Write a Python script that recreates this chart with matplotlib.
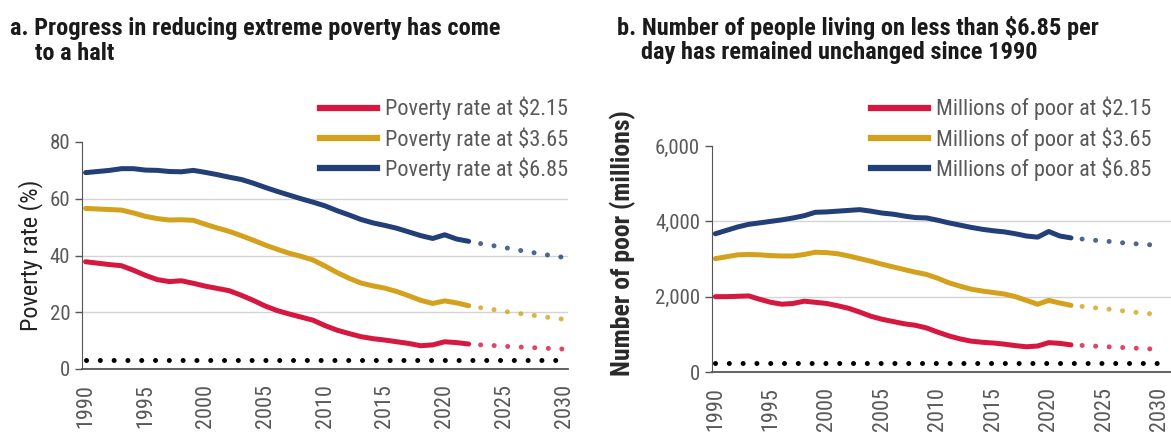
import matplotlib
matplotlib.use("Agg")
import matplotlib.pyplot as plt
from matplotlib import font_manager as fm
from matplotlib.lines import Line2D

# --- pick a narrow sans if one is installed ---
fonts = fm.fontManager.ttflist
names = {f.name for f in fonts}
FONT, STRETCH = 'Roboto', 'normal'
for cand in ['Liberation Sans Narrow', 'Noto Sans Condensed', 'Roboto Condensed',
             'Open Sans Condensed', 'DejaVu Sans Condensed']:
    if cand in names:
        FONT = cand
        break
else:
    for fam in ['Noto Sans', 'Open Sans', 'Roboto', 'DejaVu Sans']:
        if any(f.name == fam and f.stretch in ('condensed', 'semi-condensed', 600 - 100)
               for f in fonts):
            FONT, STRETCH = fam, 'condensed'
            break
plt.rcParams['font.family'] = [FONT, 'DejaVu Sans']
plt.rcParams['font.stretch'] = STRETCH

# --- data ---
years = list(range(1990, 2023))
proj_years = list(range(2022, 2031))
target_years = [1990, 2030]

rate_215 = [37.8, 37.3, 36.8, 36.4, 34.8, 33.0, 31.5, 30.8, 31.1, 30.2, 29.2,
            28.4, 27.6, 26.0, 24.2, 22.2, 20.6, 19.4, 18.3, 17.2, 15.3,
            13.7, 12.5, 11.4, 10.7, 10.2, 9.6, 9.0, 8.2, 8.5, 9.6, 9.3, 8.8]
rate_365 = [56.6, 56.4, 56.2, 56.0, 55.0, 53.8, 53.0, 52.5, 52.6, 52.4, 51.0,
            49.7, 48.5, 47.0, 45.4, 43.7, 42.2, 40.8, 39.7, 38.4, 36.3,
            34.0, 32.0, 30.3, 29.3, 28.5, 27.3, 25.8, 24.2, 23.1, 24.0, 23.3, 22.3]
rate_685 = [69.2, 69.6, 70.0, 70.6, 70.6, 70.1, 70.0, 69.6, 69.5, 70.0, 69.3,
            68.5, 67.6, 66.8, 65.5, 64.0, 62.6, 61.3, 60.0, 58.8, 57.5,
            55.8, 54.3, 52.7, 51.5, 50.6, 49.6, 48.3, 47.0, 46.0, 47.3, 45.8, 45.0]
rate_215_proj = [8.8, 8.5, 8.3, 8.0, 7.8, 7.6, 7.4, 7.2, 7.0]
rate_365_proj = [22.3, 21.6, 21.0, 20.3, 19.7, 19.1, 18.6, 18.0, 17.5]
rate_685_proj = [45.0, 44.2, 43.5, 42.8, 42.0, 41.3, 40.6, 39.9, 39.3]
rate_target = [3, 3]

poor_215 = [2000, 2000, 2010, 2020, 1930, 1850, 1800, 1820, 1880, 1850, 1820,
            1760, 1690, 1590, 1480, 1400, 1340, 1280, 1240, 1170, 1060,
            960, 880, 820, 790, 770, 740, 700, 670, 690, 780, 760, 720]
poor_365 = [3010, 3060, 3110, 3120, 3110, 3090, 3080, 3080, 3120, 3180, 3170,
            3140, 3080, 3010, 2940, 2860, 2790, 2720, 2650, 2590, 2490,
            2370, 2280, 2200, 2150, 2110, 2070, 2000, 1900, 1800, 1900, 1830, 1770]
poor_685 = [3670, 3760, 3850, 3920, 3960, 4000, 4040, 4090, 4150, 4240, 4250,
            4270, 4290, 4310, 4270, 4220, 4190, 4140, 4100, 4090, 4030,
            3960, 3900, 3840, 3790, 3750, 3720, 3670, 3610, 3580, 3730, 3610, 3560]
poor_215_proj = [720, 705, 690, 675, 660, 645, 630, 615, 600]
poor_365_proj = [1770, 1740, 1710, 1680, 1650, 1610, 1580, 1550, 1530]
poor_685_proj = [3560, 3530, 3500, 3480, 3450, 3420, 3400, 3380, 3360]
poor_target = [250, 250]

RED, GOLD, NAVY = '#d6173f', '#d4a11c', '#233f78'
GREY_TXT = '#595959'
W, H = 1171, 432

fig = plt.figure(figsize=(W / 100, H / 100), dpi=100)


def px_axes(x0, x1, y_top, y_bot):
    return fig.add_axes([x0 / W, 1 - y_bot / H, (x1 - x0) / W, (y_bot - y_top) / H])


def draw_panel(ax, s215, s365, s685, p215, p365, p685, target, ymax, grid, ylabels,
               labels, leg_xy):
    for g in grid:
        ax.axhline(g, color='#d4d4d4', lw=1, zorder=0)
    for s, p, c in [(s215, p215, RED), (s365, p365, GOLD), (s685, p685, NAVY)]:
        ax.plot(years, s, color=c, lw=3.6, solid_capstyle='round', zorder=3)
        ax.plot(proj_years[1:], p[1:], color=c, lw=3.6, alpha=0.8,
                linestyle=(0, (0.01, 2.7)), dash_capstyle='round', zorder=3)
    ax.plot(target_years, target, color='black', lw=3.6,
            linestyle=(0, (0.01, 2.75)), dash_capstyle='round', zorder=3)

    ax.set_ylim(0, ymax)
    ax.set_yticks(ylabels[0])
    ax.set_yticklabels(ylabels[1])
    ax.set_xticks(range(1990, 2031, 5))
    ax.tick_params(axis='x', length=0, labelrotation=90, labelsize=16, labelcolor=GREY_TXT, pad=11)
    ax.tick_params(axis='y', length=5, width=1, color='#555555', labelsize=15, labelcolor=GREY_TXT)
    for sp in ['top', 'right']:
        ax.spines[sp].set_visible(False)
    ax.spines['left'].set_color('#555555')
    ax.spines['bottom'].set_color('#555555')
    ax.spines['bottom'].set_linewidth(1.3)

    handles = [Line2D([], [], color=c, lw=4.5) for c in (RED, GOLD, NAVY)]
    leg = ax.legend(handles, labels, loc='upper right',
                    bbox_to_anchor=(leg_xy[0] / W, 1 - leg_xy[1] / H),
                    bbox_transform=fig.transFigure,
                    frameon=False, fontsize=16, handlelength=2.55, handletextpad=0.35,
                    labelspacing=0.3, borderaxespad=0, borderpad=0)
    for t in leg.get_texts():
        t.set_color(GREY_TXT)


# panel a
ax1 = px_axes(82, 568, 142, 369)
ax1.set_xlim(1989.7, 2030.3)
draw_panel(ax1, rate_215, rate_365, rate_685, rate_215_proj, rate_365_proj, rate_685_proj,
           rate_target, 80, [20, 40, 60],
           ([0, 20, 40, 60, 80], ['0', '20', '40', '60', '80']),
           ['Poverty rate at $2.15', 'Poverty rate at $3.65', 'Poverty rate at $6.85'],
           (568, 97))
ax1.set_ylabel('Poverty rate (%)', fontsize=17.5, color='#222222', labelpad=5)

# panel b
ax2 = px_axes(712, 1171, 146, 372)
ax2.set_xlim(1989.7, 2031.0)
draw_panel(ax2, poor_215, poor_365, poor_685, poor_215_proj, poor_365_proj, poor_685_proj,
           poor_target, 6000, [2000, 4000],
           ([0, 2000, 4000, 6000], ['0', '2,000', '4,000', '6,000']),
           ['Millions of poor at $2.15', 'Millions of poor at $3.65', 'Millions of poor at $6.85'],
           (1151, 97))
ax2.set_ylabel('Number of poor (millions)', fontsize=18.5, fontweight='semibold',
               color='#2a2a2a')
ax2.yaxis.set_label_coords(-0.165, 0.57)

# titles
title_kw = dict(fontsize=17.6, fontweight='bold', color='#1a1a1a', va='center')
fig.text(10 / W, 1 - 28 / H, 'a. Progress in reducing extreme poverty has come', **title_kw)
fig.text(35 / W, 1 - 53 / H, 'to a halt', **title_kw)
fig.text(617 / W, 1 - 28 / H, 'b. Number of people living on less than $6.85 per', **title_kw)
fig.text(641 / W, 1 - 53 / H, 'day has remained unchanged since 1990', **title_kw)

fig.savefig('out.png', dpi=100)
